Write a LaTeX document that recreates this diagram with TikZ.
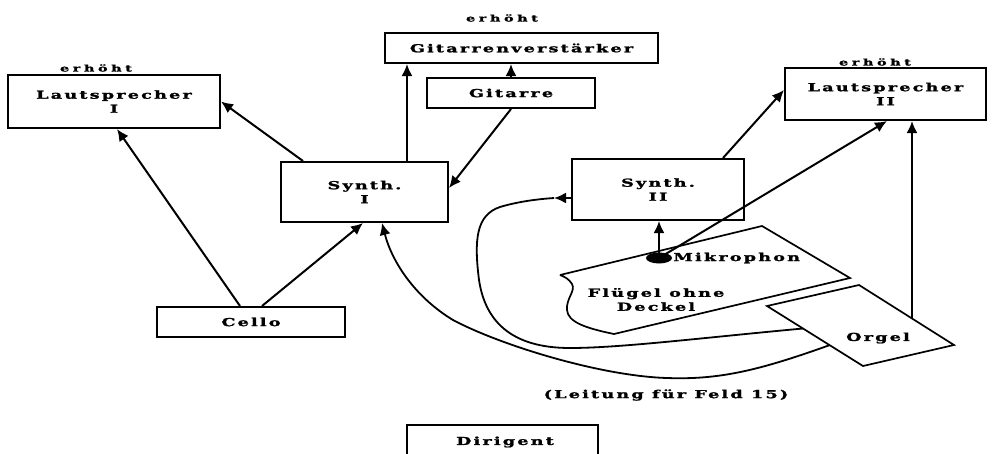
\documentclass[tikz,border=0pt]{standalone}
\usepackage{fontspec}
\newfontfamily\lblfont[FakeStretch=1.6,LetterSpace=20,FakeBold=1.8]{DejaVu Serif Bold}
\usetikzlibrary{arrows.meta,shapes.geometric,calc}

\tikzset{
  every node/.style={font=\lblfont\fontsize{11}{14}\selectfont},
  box/.style={draw, line width=2pt, inner sep=0pt, align=center},
  tag/.style={inner sep=0pt, font=\lblfont\fontsize{9}{10}\selectfont\addfontfeatures{LetterSpace=40}},
  tip/.style={-{Latex[length=12pt,width=11pt]}},
  link/.style={line width=2pt, tip},
  wire/.style={line width=1.8pt},
  outline/.style={line width=1.7pt, line join=miter}
}

\begin{document}
\begin{tikzpicture}[x=1pt,y=-1pt]
\useasboundingbox (0,0) rectangle (992,453);

% equipment boxes
\node[box, minimum width=212pt, minimum height=53pt] (ls1) at (114,101.5) {Lautsprecher\\I};
\node[tag] (ls1tag) at (96,68) {erhöht};
\node[box, minimum width=167pt, minimum height=60pt] (syn1) at (364.5,192) {Synth.\\I};
\node[box, minimum width=273pt, minimum height=30pt] (gamp) at (521.5,48) {Gitarrenverstärker};
\node[tag] (gamptag) at (502,18) {erhöht};
\node[box, minimum width=168pt, minimum height=30pt] (git) at (511,93) {Gitarre};
\node[box, minimum width=188pt, minimum height=30pt] (cello) at (251,322) {Cello};
\node[box, minimum width=172pt, minimum height=61pt] (syn2) at (658,189.5) {Synth.\\II};
\node[box, minimum width=201pt, minimum height=52pt] (ls2) at (885.5,94) {Lautsprecher\\II};
\node[tag] (ls2tag) at (875,62) {erhöht};

% grand piano without lid
\draw[outline] (560,275) -- (762,226) -- (850,278) -- (614,334)
  .. controls (585,328) and (568,322) .. (567,310)
  .. controls (566,298) and (576,291) .. (572,284)
  .. controls (569,279) and (565,277) .. (560,275);
\node[align=center] (fl) at (656,299.5) {Flügel ohne\\Deckel};

% microphone on the piano
\node[fill, ellipse, minimum width=26pt, minimum height=11pt, inner sep=0pt] (mic) at (659,258) {};
\node[anchor=west, inner sep=0pt] (micl) at ([xshift=1pt]mic.east) {Mikrophon};

% organ outline corners
\coordinate (o1) at (767,306);
\coordinate (o2) at (859,285);
\coordinate (o3) at (954,345);
\coordinate (o4) at (863,366);
\coordinate (orgtop) at (912,318);
\coordinate (orgin) at (803,328.5);
\coordinate (orgout) at (830,345);
\coordinate (inlet) at (554,198);

% cable for field 15 to Synth. I
\draw[wire, tip] (orgout)
  .. controls (760,370) and (720,380) .. (667,378)
  .. controls (600,376) and (500,345) .. (453,320)
  .. controls (415,297) and (392,262) .. ([xshift=17.5pt]syn1.south);

% cable from the organ to Synth. II
\draw[wire] (orgin)
  .. controls (700,338) and (620,348) .. (570,348)
  .. controls (510,348) and (485,320) .. (479,280)
  .. controls (474,240) and (476,215) .. (500,207)
  .. controls (520,201) and (540,199) .. (inlet);
\draw[link] (syn2.west |- inlet) -- (inlet);

% organ
\draw[outline, fill=white] (o1) -- (o2) -- (o3) -- (o4) -- cycle;
\node (org) at (878,338) {Orgel};

% signal paths
\draw[link] ([xshift=-11pt]cello.north) -- ([xshift=3pt]ls1.south);
\draw[link] ([xshift=11pt]cello.north) -- ([xshift=-1.5pt]syn1.south);
\draw[link] ([xshift=-61.5pt]syn1.north) -- (ls1.east);
\draw[link] ([xshift=42.5pt]syn1.north) -- ([xshift=42.5pt]syn1.north |- gamp.south);
\draw[link] (git.north) -- (git.north |- gamp.south);
\draw[link] (git.south) -- ([yshift=4pt]syn1.east);
\draw[link] ([xshift=65pt]syn2.north) -- ([yshift=4pt]ls2.west);
\draw[link] (mic.center) -- (mic.center |- syn2.south);
\draw[link] (mic.center) -- ([xshift=1.5pt]ls2.south);
\draw[link] (orgtop) -- (orgtop |- ls2.south);

% caption of the cable
\node (cap) at (666,395) {(Leitung für Feld 15)};

% conductor
\node (dir) at (505,442) {Dirigent};
\draw[line width=2pt] (407,456) -- (407,425) -- (598,425) -- (598,456);
\end{tikzpicture}
\end{document}
